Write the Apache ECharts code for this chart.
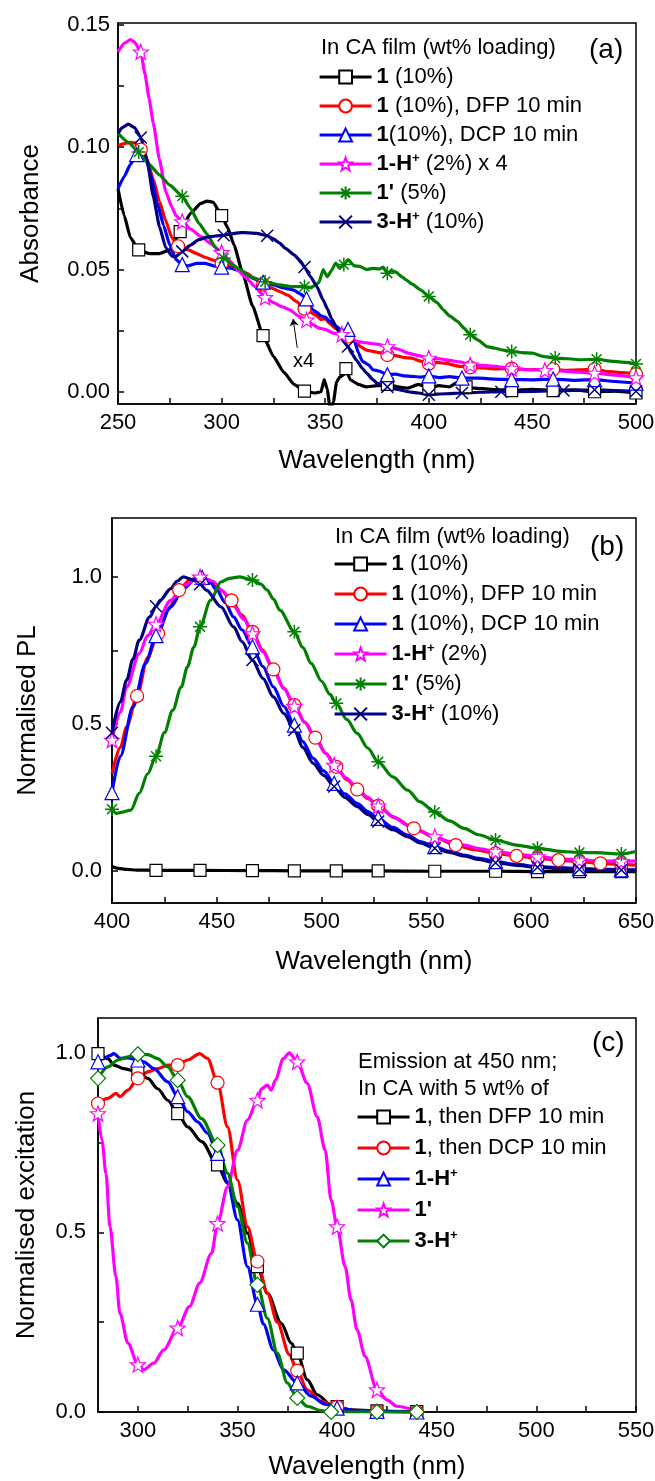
<!DOCTYPE html>
<html>
<head>
<meta charset="utf-8">
<script src="https://cdn.jsdelivr.net/npm/echarts@6/dist/echarts.min.js"></script>
<style>
  html, body { margin: 0; padding: 0; background: #fff; }
  #chart { width: 655px; height: 1481px; }
</style>
</head>
<body>
<div id="chart"></div>
<script>
// ---------- panel (a): absorbance in CA film ----------
const absBlack = [[250,0.083],[253,0.072],[256,0.063],[260,0.058],[265,0.0565],[270,0.0565],[275,0.058],[280,0.0655],[285,0.073],[290,0.077],[293,0.078],[296,0.0775],[300,0.072],[303,0.067],[306,0.060],[310,0.049],[315,0.035],[320,0.023],[325,0.0145],[330,0.008],[335,0.003],[340,0.0003],[345,-0.0005],[348,0.0],[349.5,0.005],[351,0.001],[352.5,-0.008],[354,-0.004],[355.5,0.004],[357,0.006],[359,0.007],[360,0.0095],[362,0.005],[364,0.004],[366,0.003],[370,0.002],[375,0.0025],[380,0.003],[385,0.002],[390,0.0015],[395,0.003],[400,0.0015],[405,0.0025],[410,0.002],[414,0.004],[418,0.002],[422,0.0015],[430,0.001],[440,0.0005],[450,0.001],[460,0.0005],[470,0.0008],[480,0.0],[490,0.0003],[500,-0.0005]];
const absRed = [[250,0.1007],[253,0.1015],[256,0.102],[258,0.1018],[261,0.099],[264,0.095],[267,0.087],[270,0.078],[273,0.070],[276,0.063],[279,0.0595],[281,0.059],[284,0.058],[288,0.0565],[292,0.055],[296,0.0538],[300,0.0526],[304,0.0515],[308,0.050],[312,0.0485],[316,0.0462],[320,0.0438],[324,0.0425],[328,0.041],[332,0.0395],[336,0.037],[340,0.034],[343,0.0325],[346,0.031],[348,0.0295],[350,0.030],[352,0.028],[355,0.026],[358,0.0245],[361,0.0226],[364,0.021],[367,0.0185],[370,0.017],[373,0.0165],[376,0.016],[380,0.015],[384,0.0148],[388,0.014],[392,0.0137],[396,0.0125],[400,0.0115],[404,0.012],[409,0.0115],[414,0.0105],[420,0.010],[426,0.0098],[432,0.0094],[440,0.0095],[448,0.009],[455,0.0092],[460,0.0092],[466,0.0088],[472,0.009],[480,0.0092],[487,0.0082],[493,0.0078],[500,0.0072]];
const absBlue = [[250,0.083],[253,0.088],[256,0.093],[259,0.097],[261,0.099],[263,0.097],[266,0.088],[269,0.077],[272,0.068],[275,0.060],[278,0.054],[281,0.052],[284,0.0515],[288,0.0525],[292,0.0525],[296,0.0515],[300,0.051],[305,0.0505],[310,0.049],[315,0.0465],[320,0.0448],[325,0.0437],[330,0.0425],[335,0.0415],[338,0.040],[341,0.038],[344,0.0335],[346,0.0325],[348,0.031],[350,0.0305],[352,0.029],[355,0.027],[358,0.025],[361,0.0255],[364,0.021],[366,0.016],[368,0.0124],[371,0.011],[373,0.009],[376,0.0085],[380,0.007],[384,0.0072],[388,0.0065],[392,0.0063],[396,0.006],[400,0.0065],[405,0.0058],[410,0.0062],[416,0.0056],[424,0.0056],[432,0.0052],[440,0.005],[450,0.0049],[460,0.0052],[470,0.0047],[480,0.005],[490,0.0042],[500,0.0035]];
const absMagenta = [[250,0.139],[253,0.1425],[256,0.144],[258,0.143],[261,0.139],[263,0.130],[265,0.120],[267,0.110],[270,0.095],[273,0.082],[276,0.0755],[278,0.072],[281,0.0696],[285,0.0665],[290,0.0635],[295,0.0605],[300,0.057],[304,0.0535],[308,0.0495],[312,0.0465],[316,0.043],[321,0.0386],[325,0.0365],[329,0.0348],[333,0.0335],[337,0.031],[341,0.0294],[344,0.0275],[347,0.026],[350,0.0255],[354,0.024],[358,0.0235],[362,0.022],[366,0.0205],[370,0.020],[375,0.0195],[380,0.0185],[385,0.0175],[390,0.0158],[395,0.0148],[400,0.0138],[405,0.0135],[410,0.0128],[415,0.0122],[420,0.011],[426,0.0108],[432,0.0104],[440,0.0095],[448,0.009],[456,0.0088],[464,0.0085],[472,0.008],[480,0.0076],[490,0.0068],[500,0.0058]];
const absGreen = [[250,0.1057],[255,0.102],[260,0.098],[265,0.093],[270,0.0887],[275,0.0845],[281,0.080],[285,0.075],[289,0.069],[293,0.0645],[297,0.059],[301,0.0546],[305,0.052],[309,0.050],[314,0.047],[321,0.045],[328,0.0437],[334,0.043],[340,0.043],[343,0.0425],[345,0.0435],[347,0.0447],[349,0.050],[351,0.047],[353,0.0495],[355,0.0526],[357,0.0505],[359,0.052],[361,0.054],[364,0.0515],[367,0.0512],[370,0.050],[373,0.0505],[376,0.0502],[378,0.051],[380,0.0485],[382,0.0495],[384,0.049],[387,0.047],[389,0.0458],[392,0.044],[396,0.0417],[400,0.039],[404,0.0365],[407,0.0335],[410,0.031],[414,0.0287],[417,0.026],[420,0.0233],[424,0.021],[428,0.0185],[432,0.0178],[436,0.017],[440,0.0165],[445,0.016],[450,0.0158],[455,0.0145],[461,0.0138],[467,0.0135],[473,0.0131],[481,0.0133],[489,0.0124],[495,0.012],[500,0.0114]];
const absNavy = [[250,0.1057],[252,0.108],[255,0.1095],[258,0.108],[261,0.104],[264,0.095],[267,0.080],[270,0.0676],[273,0.059],[276,0.0555],[278,0.0553],[281,0.0574],[285,0.060],[289,0.0622],[293,0.0632],[297,0.0637],[301,0.064],[305,0.0646],[309,0.0651],[313,0.065],[317,0.0648],[322,0.0638],[325,0.0625],[328,0.0608],[331,0.0585],[335,0.056],[338,0.0535],[340,0.051],[343,0.047],[346,0.043],[349,0.0375],[351,0.034],[353,0.030],[356,0.0253],[358,0.0215],[361,0.0185],[363,0.0155],[365,0.013],[368,0.0095],[370,0.0076],[373,0.005],[375,0.0035],[380,0.002],[385,0.001],[390,0.0],[395,-0.0005],[400,-0.0012],[408,-0.0008],[416,-0.0005],[425,-0.0002],[435,0.0],[450,0.0002],[465,0.0005],[480,0.0008],[490,0.0005],[500,0.0002]];
const absMarks = [260,280,300,320,340,360,380,400,420,440,460,480,500];

// ---------- panel (b): normalised PL ----------
const plBlack = [[400,0.015],[403,0.009],[407,0.005],[412,0.003],[421,0.002],[442,0.002],[467,0.001],[487,0.0005],[507,0.0],[527,0.0],[554,-0.001],[583,-0.001],[603,-0.002],[623,-0.002],[643,-0.002],[650,-0.002]];
const plRed = [[400,0.33],[404,0.42],[407,0.49],[412,0.595],[417,0.725],[422,0.807],[427,0.89],[432,0.955],[437,0.989],[442,1.0],[448,0.977],[452,0.955],[457,0.92],[462,0.87],[467,0.813],[472,0.75],[477,0.685],[482,0.622],[487,0.564],[492,0.505],[497,0.453],[502,0.4],[507,0.354],[512,0.31],[517,0.277],[522,0.247],[527,0.221],[535,0.18],[544,0.145],[554,0.114],[564,0.088],[573,0.072],[583,0.06],[593,0.051],[603,0.043],[613,0.037],[623,0.032],[633,0.026],[643,0.022],[650,0.02]];
const plBlue = [[400,0.266],[404,0.39],[410,0.558],[416,0.706],[421,0.8],[428,0.898],[434,0.96],[440,0.994],[443,0.998],[446,0.99],[450,0.955],[454,0.912],[458,0.864],[462,0.82],[467,0.762],[472,0.695],[477,0.626],[482,0.56],[487,0.496],[491,0.44],[496,0.383],[501,0.34],[506,0.298],[511,0.262],[517,0.23],[522,0.202],[527,0.179],[534,0.148],[541,0.122],[547,0.1],[554,0.083],[561,0.067],[568,0.054],[575,0.043],[583,0.032],[593,0.022],[603,0.015],[613,0.011],[623,0.008],[633,0.006],[643,0.004],[650,0.003]];
const plMagenta = [[400,0.445],[404,0.54],[407,0.626],[413,0.74],[417,0.8],[421,0.839],[428,0.92],[434,0.971],[442,1.0],[448,0.985],[453,0.95],[458,0.9],[463,0.855],[467,0.807],[472,0.745],[477,0.683],[482,0.62],[487,0.56],[492,0.505],[497,0.451],[502,0.4],[506,0.36],[512,0.315],[517,0.281],[522,0.25],[527,0.221],[534,0.185],[541,0.156],[547,0.135],[554,0.117],[561,0.1],[568,0.088],[575,0.076],[583,0.066],[593,0.057],[603,0.049],[613,0.042],[623,0.037],[633,0.034],[643,0.033],[650,0.034]];
const plGreen = [[400,0.21],[402,0.196],[405,0.2],[409,0.207],[413,0.264],[417,0.33],[421,0.39],[425,0.47],[429,0.547],[433,0.625],[436,0.694],[439,0.76],[442,0.83],[447,0.92],[452,0.983],[456,0.995],[461,1.0],[467,0.989],[471,0.975],[474,0.955],[477,0.925],[480,0.887],[487,0.813],[491,0.76],[495,0.706],[500,0.645],[504,0.6],[507,0.57],[512,0.515],[517,0.468],[522,0.418],[527,0.371],[534,0.32],[541,0.275],[547,0.235],[554,0.2],[561,0.17],[568,0.145],[575,0.123],[583,0.105],[593,0.088],[603,0.077],[615,0.066],[623,0.063],[631,0.062],[643,0.058],[650,0.066]];
const plNavy = [[400,0.47],[404,0.575],[407,0.649],[410,0.72],[413,0.785],[418,0.864],[421,0.9],[423,0.92],[428,0.96],[431,0.985],[434,1.0],[439,0.989],[442,0.975],[445,0.955],[452,0.898],[458,0.83],[462,0.78],[467,0.717],[472,0.655],[477,0.592],[482,0.535],[487,0.479],[491,0.42],[496,0.366],[501,0.325],[506,0.287],[511,0.25],[517,0.219],[522,0.192],[527,0.168],[534,0.14],[541,0.117],[547,0.095],[554,0.077],[561,0.063],[568,0.051],[575,0.039],[583,0.028],[593,0.019],[603,0.0125],[613,0.009],[623,0.006],[633,0.004],[643,0.003],[650,0.003]];
const plMarks = [421,442,467,487,507,527,554,583,603,623,643];
const plMarksFrom400 = [400,421,442,467,487,507,527,554,583,603,623,643];
const plRedMarks = [412,422,432,457,467,477,487,497,507,517,527,544,564,583,593,603,613,623,633,643];

// ---------- panel (c): normalised excitation ----------
const exBlack = [[280,0.998],[282,0.99],[285,0.984],[288,0.966],[293,0.956],[300,0.947],[305,0.929],[310,0.90],[315,0.868],[320,0.831],[325,0.794],[332,0.753],[340,0.688],[345,0.637],[350,0.581],[355,0.498],[360,0.405],[365,0.331],[372,0.247],[377,0.192],[380,0.164],[385,0.09],[390,0.048],[397,0.02],[400,0.015],[407,0.006],[420,0.003],[427,0.002],[440,0.001]];
const exRed = [[280,0.859],[285,0.873],[289,0.887],[291,0.878],[295,0.896],[300,0.929],[305,0.947],[310,0.956],[315,0.966],[320,0.966],[325,0.98],[331,0.998],[335,0.984],[340,0.917],[345,0.794],[350,0.646],[355,0.516],[360,0.419],[365,0.331],[370,0.25],[376,0.16],[380,0.115],[385,0.062],[392,0.03],[400,0.014],[407,0.005],[420,0.002],[440,0.0]];
const exBlue = [[280,0.975],[283,0.985],[286,0.992],[288,0.998],[291,0.985],[295,0.986],[300,0.98],[303,0.975],[308,0.956],[315,0.919],[320,0.878],[325,0.836],[330,0.808],[335,0.776],[340,0.72],[345,0.641],[350,0.535],[355,0.405],[360,0.3],[363,0.245],[368,0.173],[373,0.118],[380,0.081],[387,0.044],[394,0.022],[400,0.011],[410,0.004],[420,0.002],[440,0.0]];
const exMagenta = [[280,0.831],[282,0.757],[284,0.664],[286,0.516],[289,0.377],[291,0.275],[295,0.192],[300,0.132],[303,0.118],[308,0.136],[313,0.173],[320,0.234],[326,0.294],[331,0.359],[337,0.442],[340,0.525],[345,0.627],[350,0.729],[355,0.813],[360,0.868],[362,0.9],[365,0.91],[367,0.896],[369,0.924],[373,0.984],[376,1.0],[380,0.975],[385,0.915],[390,0.822],[394,0.729],[397,0.59],[400,0.516],[404,0.405],[407,0.312],[410,0.229],[414,0.155],[420,0.062],[425,0.034],[430,0.016],[437,0.008]];
const exGreen = [[280,0.929],[285,0.961],[290,0.98],[295,0.989],[300,0.996],[305,0.995],[310,0.984],[315,0.961],[320,0.924],[325,0.878],[332,0.817],[340,0.743],[345,0.665],[350,0.572],[355,0.47],[360,0.354],[365,0.261],[370,0.164],[375,0.081],[380,0.039],[385,0.016],[392,0.004],[397,0.0],[420,0.0],[440,0.0]];
const exMarks = [280,300,320,340,360,380,400,420,440];
const exMagentaMarks = [280,300,320,340,360,380,400,420];

// tick positions and labels
const aXTicks = [250,275,300,325,350,375,400,425,450,475,500];
const aXLabels = [250,300,350,400,450,500];
const aYTicks = [0,0.025,0.05,0.075,0.1,0.125,0.15];
const aYLabels = [0,0.05,0.1,0.15];
const bXTicks = [400,425,450,475,500,525,550,575,600,625,650];
const bXLabels = [400,450,500,550,600,650];
const bYTicks = [0,0.25,0.5,0.75,1.0];
const bYLabels = [0,0.5,1.0];
const cXTicks = [300,325,350,375,400,425,450,475,500,525,550];
const cXLabels = [300,350,400,450,500,550];
const cYTicks = [0,0.25,0.5,0.75,1.0];
const cYLabels = [0,0.5,1.0];

// legend texts (rich text)
const legendA = ['{b|1} (10%)', '{b|1} (10%), DFP 10 min', '{b|1}(10%), DCP 10 min', '{b|1-H}{s|+} (2%) x 4', "{b|1'} (5%)", '{b|3-H}{s|+} (10%)'];
const legendB = ['{b|1} (10%)', '{b|1} (10%), DFP 10 min', '{b|1} (10%), DCP 10 min', '{b|1-H}{s|+} (2%)', "{b|1'} (5%)", '{b|3-H}{s|+} (10%)'];
const legendC = ['{b|1}, then DFP 10 min', '{b|1}, then DCP 10 min', '{b|1-H}{s|+}', "{b|1'}", '{b|3-H}{s|+}'];

const FONT = '"Liberation Sans", Arial, Helvetica, sans-serif';
const STAR = 'path://M0,-10L2.47,-3.4L9.51,-3.09L3.99,1.3L5.88,8.09L0,4.2L-5.88,8.09L-3.99,1.3L-9.51,-3.09L-2.47,-3.4Z';
const ASTER = 'path://M0,-10L0,10M-10,0L10,0M-7.07,-7.07L7.07,7.07M-7.07,7.07L7.07,-7.07';
const CROSS = 'path://M-10,-10L10,10M-10,10L10,-10';

// only the points nearest to the marker wavelengths get a symbol
function withMarks(pts, marks) {
  const keep = new Set(marks.map(m => {
    let best = 0;
    pts.forEach((p, i) => { if (Math.abs(p[0] - m) < Math.abs(pts[best][0] - m)) best = i; });
    return best;
  }));
  return pts.map((p, i) => keep.has(i) ? p : { value: p, symbol: 'none' });
}

function mkLine(name, gi, pts, marks, color, symbol, size, hollow, smooth) {
  return {
    name: name,
    type: 'line',
    xAxisIndex: gi,
    yAxisIndex: gi,
    data: withMarks(pts, marks),
    showAllSymbol: true,
    symbol: symbol,
    symbolSize: size,
    smooth: smooth,
    smoothMonotone: 'x',
    lineStyle: { color: color, width: 3.2 },
    itemStyle: hollow
      ? { color: '#fff', borderColor: color, borderWidth: 1.2 }
      : { color: color, borderColor: color, borderWidth: 1.5 },
    emphasis: { disabled: true },
    animation: false
  };
}

function xAxisOf(gi, min, max, ticks, labels, nameGap) {
  return {
    type: 'value', gridIndex: gi, min: min, max: max,
    name: 'Wavelength (nm)', nameLocation: 'middle', nameGap: nameGap,
    nameTextStyle: { fontSize: 26, color: '#000', fontFamily: FONT },
    axisLine: { onZero: false, lineStyle: { color: '#000', width: 1.5 } },
    axisTick: { inside: true, length: 6, customValues: ticks, lineStyle: { color: '#000', width: 1.5 } },
    axisLabel: { customValues: labels, color: '#000', fontSize: 22, fontFamily: FONT, margin: 8 },
    splitLine: { show: false }
  };
}

function yAxisOf(gi, min, max, ticks, labels, digits, name, nameGap, margin) {
  return {
    type: 'value', gridIndex: gi, min: min, max: max,
    name: name, nameLocation: 'middle', nameGap: nameGap,
    nameTextStyle: { fontSize: 26, color: '#000', fontFamily: FONT },
    axisLine: { onZero: false, lineStyle: { color: '#000', width: 1.5 } },
    axisTick: { inside: true, length: 6, customValues: ticks, lineStyle: { color: '#000', width: 1.5 } },
    axisLabel: { customValues: labels, color: '#000', fontSize: 22, fontFamily: FONT, margin: margin,
      formatter: v => Number(v).toFixed(digits) },
    splitLine: { show: false }
  };
}

function legendOf(names, texts, left, top, gap) {
  const map = {};
  names.forEach((n, i) => { map[n] = texts[i]; });
  return {
    orient: 'vertical', left: left, top: top, padding: 0,
    itemWidth: 52, itemHeight: 16, itemGap: gap,
    selectedMode: false,
    data: names,
    formatter: n => map[n],
    lineStyle: { width: 3.2 },
    textStyle: {
      fontSize: 22, fontFamily: FONT, color: '#000', lineHeight: 24,
      rich: {
        b: { fontSize: 22, fontFamily: FONT, fontWeight: 'bold', color: '#000', lineHeight: 24 },
        s: { fontSize: 13, fontFamily: FONT, fontWeight: 'bold', color: '#000', lineHeight: 13, verticalAlign: 'top' }
      }
    }
  };
}

function titleOf(text, left, top, size, lh) {
  return { text: text, left: left, top: top, padding: 0,
    textStyle: { fontSize: size, fontWeight: 'normal', fontFamily: FONT, color: '#000', lineHeight: lh } };
}

const namesA = ['a0','a1','a2','a3','a4','a5'];
const namesB = ['b0','b1','b2','b3','b4','b5'];
const namesC = ['c0','c1','c2','c3','c4'];

const magentaA = mkLine('a3', 0, absMagenta, absMarks, '#ff00ff', STAR, 15, true, 0.15);
// "x4" annotation arrow pointing at the scaled 1-H+ curve
magentaA.markLine = {
  silent: true, symbol: ['none', 'arrow'], symbolSize: 7,
  lineStyle: { color: '#000', width: 1, type: 'solid' },
  label: { show: false },
  data: [[{ coord: [336.5, 0.018] }, { coord: [334.5, 0.0298] }]]
};
magentaA.markPoint = {
  silent: true,
  data: [{ coord: [339.5, 0.0123], symbol: 'circle', symbolSize: 1, itemStyle: { color: 'rgba(0,0,0,0)' },
    label: { show: true, formatter: 'x4', position: 'inside', color: '#000', fontSize: 20, fontFamily: FONT } }]
};

const chart = echarts.init(document.getElementById('chart'), null, { renderer: 'canvas' });
chart.setOption({
  backgroundColor: '#fff',
  animation: false,
  title: [
    titleOf('In CA film (wt% loading)', 321, 36, 22, 24),
    titleOf('(a)', 589, 35, 28, 30),
    titleOf('In CA film (wt% loading)', 335, 525, 22, 24),
    titleOf('(b)', 590, 532, 28, 30),
    titleOf('Emission at 450 nm;\nIn CA with 5 wt% of', 358, 1048, 22, 27),
    titleOf('(c)', 592, 1028, 28, 30)
  ],
  legend: [
    legendOf(namesA, legendA, 318, 65, 5),
    legendOf(namesB, legendB, 333, 552, 6),
    legendOf(namesC, legendC, 356, 1105, 7)
  ],
  grid: [
    { left: 118, right: 19, top: 23, height: 381, show: true, borderColor: '#000', borderWidth: 1.5, outerBoundsMode: 'none' },
    { left: 112, right: 19, top: 518, height: 385, show: true, borderColor: '#000', borderWidth: 1.5, outerBoundsMode: 'none' },
    { left: 98, right: 19, top: 1018, height: 394, show: true, borderColor: '#000', borderWidth: 1.5, outerBoundsMode: 'none' }
  ],
  xAxis: [
    xAxisOf(0, 250, 500, aXTicks, aXLabels, 44),
    xAxisOf(1, 400, 650, bXTicks, bXLabels, 46),
    xAxisOf(2, 280, 550, cXTicks, cXLabels, 42)
  ],
  yAxis: [
    yAxisOf(0, -0.005, 0.1508, aYTicks, aYLabels, 2, 'Absorbance', 74, 8),
    yAxisOf(1, -0.109, 1.2, bYTicks, bYLabels, 1, 'Normalised PL', 71, 10),
    yAxisOf(2, 0, 1.097, cYTicks, cYLabels, 1, 'Normalised excitation', 58, 12)
  ],
  series: [
    mkLine('a0', 0, absBlack, absMarks, '#000000', 'rect', 12, true, 0.15),
    mkLine('a1', 0, absRed, absMarks, '#ff0000', 'circle', 13, true, 0.15),
    mkLine('a2', 0, absBlue, absMarks, '#0000ff', 'triangle', 14, true, 0.15),
    magentaA,
    mkLine('a4', 0, absGreen, absMarks, '#008000', ASTER, 14, false, 0.15),
    mkLine('a5', 0, absNavy, absMarks, '#000080', CROSS, 12, false, 0.15),

    mkLine('b0', 1, plBlack, plMarks, '#000000', 'rect', 12, true, 0.3),
    mkLine('b1', 1, plRed, plRedMarks, '#ff0000', 'circle', 13, true, 0.3),
    mkLine('b2', 1, plBlue, plMarksFrom400, '#0000ff', 'triangle', 14, true, 0.3),
    mkLine('b3', 1, plMagenta, plMarksFrom400, '#ff00ff', STAR, 15, true, 0.3),
    mkLine('b4', 1, plGreen, plMarksFrom400, '#008000', ASTER, 14, false, 0.3),
    mkLine('b5', 1, plNavy, plMarksFrom400, '#000080', CROSS, 12, false, 0.3),

    mkLine('c0', 2, exBlack, exMarks, '#000000', 'rect', 12, true, 0.3),
    mkLine('c1', 2, exRed, exMarks, '#ff0000', 'circle', 13, true, 0.3),
    mkLine('c2', 2, exBlue, exMarks, '#0000ff', 'triangle', 14, true, 0.3),
    mkLine('c3', 2, exMagenta, exMagentaMarks, '#ff00ff', STAR, 15, true, 0.3),
    mkLine('c4', 2, exGreen, exMarks, '#008000', 'diamond', 15, true, 0.3)
  ]
});
</script>
</body>
</html>
